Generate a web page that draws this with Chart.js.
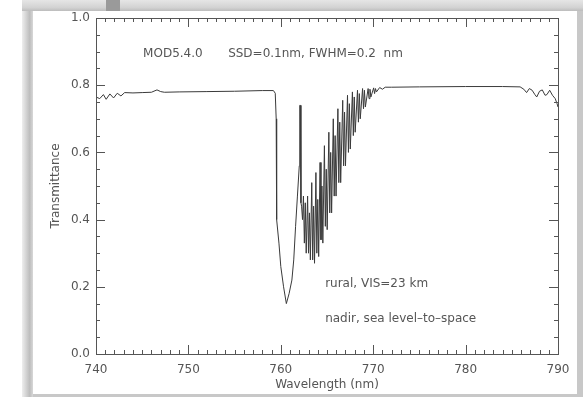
<!DOCTYPE html>
<html>
<head>
<meta charset="utf-8">
<script src="https://cdn.jsdelivr.net/npm/chart.js@4"></script>
<style>
  html, body { margin: 0; padding: 0; background: #fff; }
  #wrap { width: 583px; height: 397px; position: relative; }
</style>
</head>
<body>
<div id="wrap"><canvas id="chart"></canvas></div>
<script>
// wavelength (nm) and transmittance
const wavelengths = [
  740.0, 740.4, 740.8, 741.1, 741.5, 741.9, 742.3, 742.7, 743.1, 744.0,
  745.0, 746.0, 746.6, 747.0, 747.4, 749.0, 752.0, 755.0, 758.0, 759.2,
  759.4, 759.5, 759.55, 759.8, 760.0, 760.3, 760.6, 760.9, 761.2, 761.4,
  761.6, 761.8, 762.0, 762.05, 762.12, 762.18, 762.25, 762.35, 762.45, 762.55,
  762.65, 762.75, 762.9, 763.0, 763.1, 763.2, 763.35, 763.45, 763.55, 763.65,
  763.8, 763.9, 764.0, 764.1, 764.25, 764.35, 764.45, 764.55, 764.72, 764.82,
  764.92, 765.02, 765.2, 765.3, 765.4, 765.5, 765.68, 765.78, 765.88, 765.98,
  766.18, 766.28, 766.38, 766.48, 766.7, 766.8, 766.9, 767.0, 767.22, 767.32,
  767.42, 767.52, 767.75, 767.85, 767.95, 768.05, 768.3, 768.4, 768.5, 768.6,
  768.85, 768.95, 769.05, 769.15, 769.45, 769.55, 769.65, 769.75, 770.05, 770.15,
  770.25, 770.35, 770.7, 771.0, 771.3, 772.0, 775.0, 780.0, 784.0, 785.9,
  786.3, 786.6, 786.9, 787.2, 787.5, 787.7, 788.0, 788.3, 788.6, 788.8,
  789.1, 789.4, 789.7, 789.9, 790.0
];
const transmittance = [
  0.765, 0.760, 0.772, 0.758, 0.774, 0.762, 0.776, 0.768, 0.778, 0.777,
  0.778, 0.779, 0.786, 0.781, 0.779, 0.780, 0.781, 0.782, 0.784, 0.784,
  0.776, 0.70, 0.40, 0.33, 0.26, 0.20, 0.15, 0.18, 0.22, 0.28,
  0.38, 0.47, 0.56, 0.74, 0.74, 0.45, 0.44, 0.40, 0.47, 0.33,
  0.45, 0.30, 0.47, 0.30, 0.42, 0.28, 0.51, 0.28, 0.44, 0.27,
  0.54, 0.30, 0.46, 0.29, 0.57, 0.34, 0.50, 0.33, 0.62, 0.38,
  0.55, 0.37, 0.66, 0.42, 0.60, 0.42, 0.70, 0.47, 0.65, 0.47,
  0.73, 0.51, 0.69, 0.51, 0.755, 0.56, 0.72, 0.56, 0.77, 0.60,
  0.745, 0.61, 0.78, 0.65, 0.765, 0.66, 0.785, 0.69, 0.775, 0.70,
  0.79, 0.73, 0.785, 0.735, 0.79, 0.76, 0.788, 0.765, 0.792, 0.775,
  0.79, 0.78, 0.793, 0.788, 0.794, 0.794, 0.795, 0.796, 0.796, 0.795,
  0.788, 0.778, 0.790, 0.785, 0.772, 0.765, 0.782, 0.786, 0.770, 0.772,
  0.785, 0.770, 0.760, 0.745, 0.735
];
const xTicks = [740, 750, 760, 770, 780, 790];
const yTicks = [0.0, 0.2, 0.4, 0.6, 0.8, 1.0];
const notes = [
  { text: 'MOD5.4.0', x: 745.1, y: 0.893 },
  { text: 'SSD=0.1nm, FWHM=0.2  nm', x: 754.3, y: 0.893 },
  { text: 'rural, VIS=23 km', x: 764.8, y: 0.21 },
  { text: 'nadir, sea level\u2013to\u2013space', x: 764.8, y: 0.106 }
];

const FONT = 'DejaVu Sans';
const TXT = '#555';

// gray picture frame around the white panel
const framePlugin = {
  id: 'frame',
  beforeDraw(chart) {
    const c = chart.ctx;
    c.save();
    c.fillStyle = '#fff';
    c.fillRect(0, 0, 583, 397);
    let g = c.createLinearGradient(22, 0, 33, 0);
    g.addColorStop(0, '#eeeeee');
    g.addColorStop(0.7, '#bdbdbd');
    g.addColorStop(1, '#d8d8d8');
    c.fillStyle = g;
    c.fillRect(22, 0, 11, 397);
    g = c.createLinearGradient(0, 0, 0, 11);
    g.addColorStop(0, '#e6e6e6');
    g.addColorStop(0.7, '#d2d2d2');
    g.addColorStop(1, '#bcbcbc');
    c.fillStyle = g;
    c.fillRect(22, 0, 561, 11);
    c.fillStyle = '#9a9a9a';
    c.fillRect(106, 0, 14, 11);
    c.fillStyle = '#c8c8c8';
    c.fillRect(577, 11, 6, 386);
    c.fillRect(33, 394, 544, 3);
    c.restore();
  }
};

// box, inward ticks and the text notes
const boxPlugin = {
  id: 'box',
  afterDraw(chart) {
    const c = chart.ctx;
    const xs = chart.scales.x, ys = chart.scales.y;
    const a = chart.chartArea;
    c.save();
    c.strokeStyle = '#555';
    c.lineWidth = 1;
    c.strokeRect(Math.round(a.left) + 0.5, Math.round(a.top) + 0.5,
      Math.round(a.right - a.left), Math.round(a.bottom - a.top));
    c.beginPath();
    for (let v = 740; v <= 790; v++) {
      const px = Math.round(xs.getPixelForValue(v)) + 0.5;
      const len = v % 10 === 0 ? 9 : 4;
      c.moveTo(px, a.bottom); c.lineTo(px, a.bottom - len);
      c.moveTo(px, a.top); c.lineTo(px, a.top + len);
    }
    for (let i = 0; i <= 20; i++) {
      const py = Math.round(ys.getPixelForValue(i * 0.05)) + 0.5;
      const len = i % 4 === 0 ? 9 : 4;
      c.moveTo(a.left, py); c.lineTo(a.left + len, py);
      c.moveTo(a.right, py); c.lineTo(a.right - len, py);
    }
    c.stroke();
    c.fillStyle = TXT;
    c.font = '12px "' + FONT + '"';
    c.textBaseline = 'middle';
    notes.forEach(n => {
      c.fillText(n.text, xs.getPixelForValue(n.x), ys.getPixelForValue(n.y));
    });
    c.restore();
  }
};

new Chart(document.getElementById('chart'), {
  type: 'line',
  data: {
    datasets: [{
      data: wavelengths.map((w, i) => ({ x: w, y: transmittance[i] })),
      borderColor: '#3a3a3a',
      borderWidth: 1,
      pointRadius: 0,
      tension: 0,
      fill: false
    }]
  },
  options: {
    responsive: true,
    maintainAspectRatio: false,
    animation: false,
    layout: { padding: { top: 18, right: 25, left: 0, bottom: 0 } },
    plugins: { legend: { display: false }, tooltip: { enabled: false } },
    scales: {
      x: {
        type: 'linear',
        min: 740, max: 790,
        afterFit(s) { s.height = 43; },
        afterBuildTicks(s) { s.ticks = xTicks.map(v => ({ value: v })); },
        grid: { display: false, drawTicks: false },
        border: { display: false },
        ticks: { color: TXT, font: { family: FONT, size: 12 }, padding: 9, maxRotation: 0, autoSkip: false },
        title: { display: true, text: 'Wavelength (nm)', color: TXT, font: { family: FONT, size: 12 }, padding: { top: 0, bottom: 5 } }
      },
      y: {
        min: 0, max: 1,
        afterFit(s) { s.width = 96; },
        afterBuildTicks(s) { s.ticks = yTicks.map(v => ({ value: v })); },
        grid: { display: false, drawTicks: false },
        border: { display: false },
        ticks: { color: TXT, font: { family: FONT, size: 12 }, padding: 6, callback: v => v.toFixed(1) },
        title: { display: true, text: 'Transmittance', color: TXT, font: { family: FONT, size: 12 }, padding: { top: 49, bottom: 0 } }
      }
    }
  },
  plugins: [framePlugin, boxPlugin]
});
</script>
</body>
</html>
